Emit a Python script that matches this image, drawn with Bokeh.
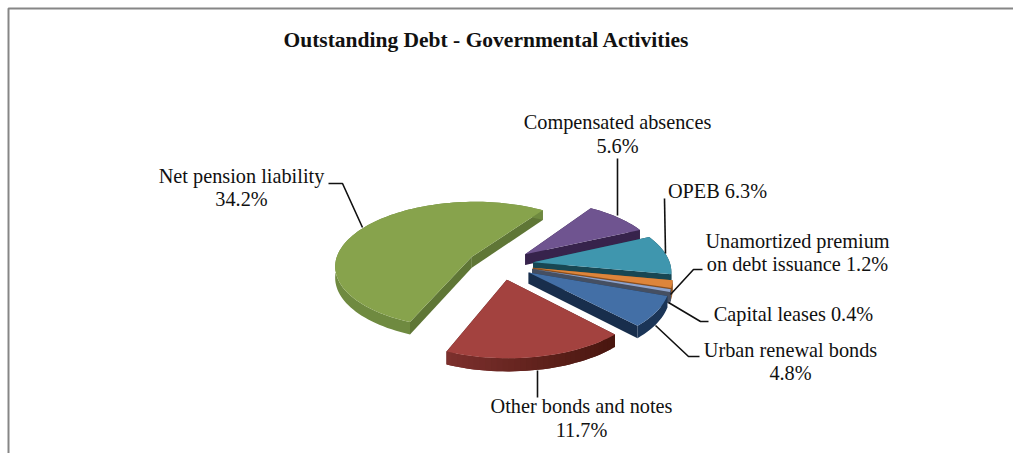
import math
from bokeh.plotting import figure
from bokeh.models import ColumnDataSource
from bokeh.core.properties import value
from bokeh.embed import file_html
from bokeh.resources import INLINE

# ---- data ----
categories = ["Net pension liability", "Compensated absences", "OPEB",
              "Unamortized premium on debt issuance", "Capital leases",
              "Urban renewal bonds", "Other bonds and notes"]
shares = [34.2, 5.6, 6.3, 1.2, 0.4, 4.8, 11.7]
title_text = "Outstanding Debt - Governmental Activities"
label_lines = [["Net pension liability", "34.2%"],
               ["Compensated absences", "5.6%"],
               ["OPEB 6.3%"],
               ["Unamortized premium", "on debt issuance 1.2%"],
               ["Capital leases 0.4%"],
               ["Urban renewal bonds", "4.8%"],
               ["Other bonds and notes", "11.7%"]]

# ---- styles ----
top_colors = ["#87A34C", "#6F5490", "#3F96AE", "#DD853B", "#8EA3CC", "#436FA6", "#A3423F"]
edge_colors = ["#5F7636", "#37234C", "#184753", "#8A4F1E", "#454F62", "#182E4C", "#4A1A17"]
rim_colors = [("#6F8A40", "#6F8A40"), ("#37234C", "#37234C"), ("#184753", "#184753"),
              ("#8A4F1E", "#8A4F1E"), ("#454F62", "#454F62"), ("#1B3557", "#1B3557"),
              ("#7D302D", "#48160F")]

# ---- layout (page pixels) ----
W, H = 1013, 453
CX, CY = 500, 263.5    # pie centre
R = 137                # pie radius
EXPLODE = 33           # slice offset
FLAT = 0.467           # vertical squash
PERSP = 0.13           # perspective strength
DEPTH = 11             # rim thickness
START = 34.0           # clockwise from north, where the purple slice begins

p = figure(width=W, height=H, x_range=(0, W), y_range=(H, 0),
           output_backend="svg", toolbar_location=None, min_border=0)
p.axis.visible = False
p.grid.visible = False
p.outline_line_color = None
p.background_fill_color = "white"


def project(u, v):
    w = 1.0 / (1.0 - PERSP * v / R)
    return CX + u * w, CY + FLAT * v * w, w


def mix(a, b, t):
    ca = [int(a[i:i + 2], 16) for i in (1, 3, 5)]
    cb = [int(b[i:i + 2], 16) for i in (1, 3, 5)]
    return "#%02x%02x%02x" % tuple(round(x + (y - x) * t) for x, y in zip(ca, cb))


total = sum(shares)
spans = [s / total * 360.0 for s in shares]
# Clockwise order after the green slice: purple ... red; green closes the circle.
angles = {}
a = START
for i in range(1, len(shares)):
    angles[i] = (a, a + spans[i])
    a += spans[i]
angles[0] = (a, a + spans[0])

xs_all, ys_all, fills = [], [], []


def add_poly(xs, ys, c):
    xs_all.append(xs)
    ys_all.append(ys)
    fills.append(c)


for i in range(len(shares)):  # back to front: green, purple, teal, orange, gray, blue, red
    a0, a1 = angles[i]
    mid = math.radians((a0 + a1) / 2)
    ou, ov = EXPLODE * math.sin(mid), -EXPLODE * math.cos(mid)
    n = max(3, int((a1 - a0) / 2))
    ring = []
    for k in range(n + 1):
        t = math.radians(a0 + (a1 - a0) * k / n)
        ring.append(project(ou + R * math.sin(t), ov - R * math.cos(t)))
    apex = project(ou, ov)
    # radial walls
    for q in (ring[0], ring[-1]):
        add_poly([apex[0], q[0], q[0], apex[0]],
                 [apex[1], q[1], q[1] + DEPTH * q[2], apex[1] + DEPTH * apex[2]], edge_colors[i])
    # outer rim, shaded left to right; each band overlaps the next to hide seams
    x_lo = min(q[0] for q in ring)
    x_hi = max(q[0] for q in ring)
    c0, c1 = rim_colors[i]
    if c0 == c1:
        add_poly([q[0] for q in ring] + [q[0] for q in reversed(ring)],
                 [q[1] for q in ring] + [q[1] + DEPTH * q[2] for q in reversed(ring)], c0)
    else:
        for k in range(n):
            seg = ring[k:k + 3]
            t = ((ring[k][0] + ring[k + 1][0]) / 2 - x_lo) / max(1, x_hi - x_lo)
            add_poly([q[0] for q in seg] + [q[0] for q in reversed(seg)],
                     [q[1] for q in seg] + [q[1] + DEPTH * q[2] for q in reversed(seg)],
                     mix(c0, c1, t))
    # top face
    add_poly([apex[0]] + [q[0] for q in ring], [apex[1]] + [q[1] for q in ring], top_colors[i])

p.patches(xs="x", ys="y", fill_color="c", line_color=None,
          source=ColumnDataSource(dict(x=xs_all, y=ys_all, c=fills)))

# chart frame: top and left rules only
p.line([8, 8, W], [H, 8, 8], line_color="#868686", line_width=2)

# leader lines
leaders = [([328, 342, 362], [183, 183, 227]),
           ([617, 617], [158, 215]),
           ([664, 665], [198, 253]),
           ([702, 693, 670], [269, 269, 294]),
           ([708, 700, 668], [321, 321, 302]),
           ([699, 688, 655], [356, 356, 325]),
           ([537, 537], [370, 397])]
for lx, ly in leaders:
    p.line(lx, ly, line_color="#111111", line_width=1.6)

# label anchors: centre x, y of each line of text
label_anchor = [(241, [175, 198]), (617, [121, 145]), (717, [190]),
                (797, [240, 263]), (793, [313]), (790, [349, 372]), (581, [405, 429])]
tx, ty, tt = [], [], []
for lines, (ax, ays) in zip(label_lines, label_anchor):
    for s, y in zip(lines, ays):
        tx.append(ax)
        ty.append(y)
        tt.append(s)
p.text(tx, ty, text=tt, text_font=value("Liberation Serif"), text_font_size="20.3px",
       text_color="#111111", text_align="center", text_baseline="middle")
p.text([486], [39], text=[title_text], text_font=value("Liberation Serif"), text_font_size="21.5px",
       text_font_style="bold", text_color="#111111", text_align="center", text_baseline="middle")

open("out.html", "w").write(file_html(p, INLINE))
